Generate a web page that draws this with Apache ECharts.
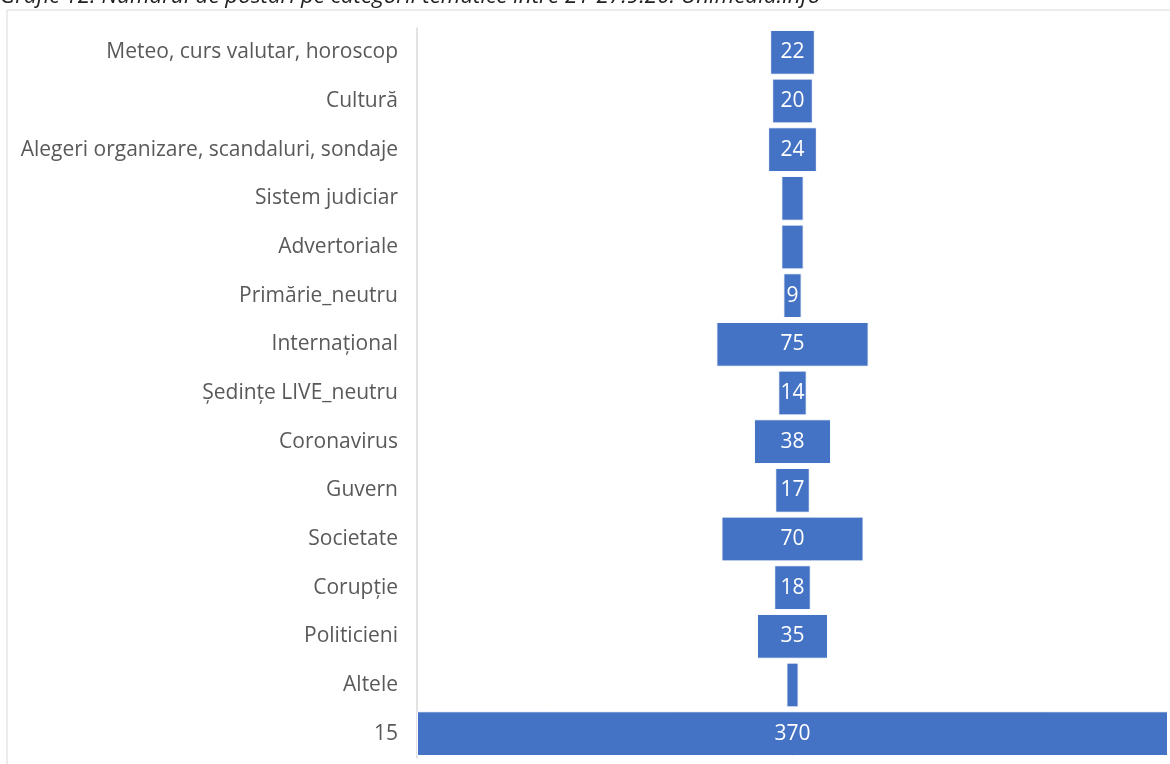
<!DOCTYPE html>
<html>
<head>
<meta charset="utf-8">
<script src="https://cdn.jsdelivr.net/npm/echarts@6/dist/echarts.min.js"></script>
<style>
  html, body { margin: 0; padding: 0; background: #fff; }
  #chart { width: 1170px; height: 764px; }
</style>
</head>
<body>
<div id="chart"></div>
<script>
// Thematic categories, top to bottom
const categories = [
  'Meteo, curs valutar, horoscop',
  'Cultură',
  'Alegeri organizare, scandaluri, sondaje',
  'Sistem judiciar',
  'Advertoriale',
  'Primărie_neutru',
  'Internațional',
  'Ședințe LIVE_neutru',
  'Coronavirus',
  'Guvern',
  'Societate',
  'Corupție',
  'Politicieni',
  'Altele',
  '15'
];
// Number of posts per category
const posts = [22, 20, 24, 11, 11, 9, 75, 14, 38, 17, 70, 18, 35, 6, 370];
// Categories whose value label is not printed
const unlabeled = ['Sistem judiciar', 'Advertoriale', 'Altele'];

const maxPosts = Math.max(...posts);
// Invisible spacer that centres each bar (funnel layout)
const spacer = posts.map(v => (maxPosts - v) / 2);

const chart = echarts.init(document.getElementById('chart'));
chart.setOption({
  animation: false,
  grid: { left: 417, right: 2, top: 28, bottom: 6, containLabel: false },
  graphic: [
    {
      type: 'rect',
      shape: { x: 7, y: 10, width: 1180, height: 770 },
      style: { fill: 'none', stroke: '#d9d9d9', lineWidth: 1 },
      silent: true
    },
    {
      type: 'text',
      left: 0, top: -14,
      style: {
        text: 'Grafic 12. Numărul de postări pe categorii tematice între 21-27.9.20. Unimedia.info',
        font: 'italic 22.4px "Open Sans"',
        fill: '#222222'
      },
      silent: true
    }
  ],
  xAxis: {
    type: 'value',
    min: 0,
    max: maxPosts,
    show: false
  },
  yAxis: {
    type: 'category',
    inverse: true,
    data: categories,
    axisLine: { show: true, lineStyle: { color: '#d9d9d9', width: 1.5 } },
    axisTick: { show: false },
    axisLabel: {
      color: '#595959',
      fontFamily: 'Open Sans',
      fontSize: 21,
      margin: 19
    }
  },
  series: [
    {
      type: 'bar',
      stack: 'funnel',
      data: spacer,
      itemStyle: { color: 'transparent' },
      barCategoryGap: '8%',
      silent: true
    },
    {
      type: 'bar',
      stack: 'funnel',
      data: posts.map((v, i) => ({
        value: v,
        label: { show: !unlabeled.includes(categories[i]) }
      })),
      barCategoryGap: '8%',
      itemStyle: { color: '#4472c4', borderColor: '#ffffff', borderWidth: 1 },
      label: {
        show: true,
        position: 'inside',
        color: '#ffffff',
        fontFamily: 'Open Sans',
        fontSize: 21
      }
    }
  ]
});
</script>
</body>
</html>
